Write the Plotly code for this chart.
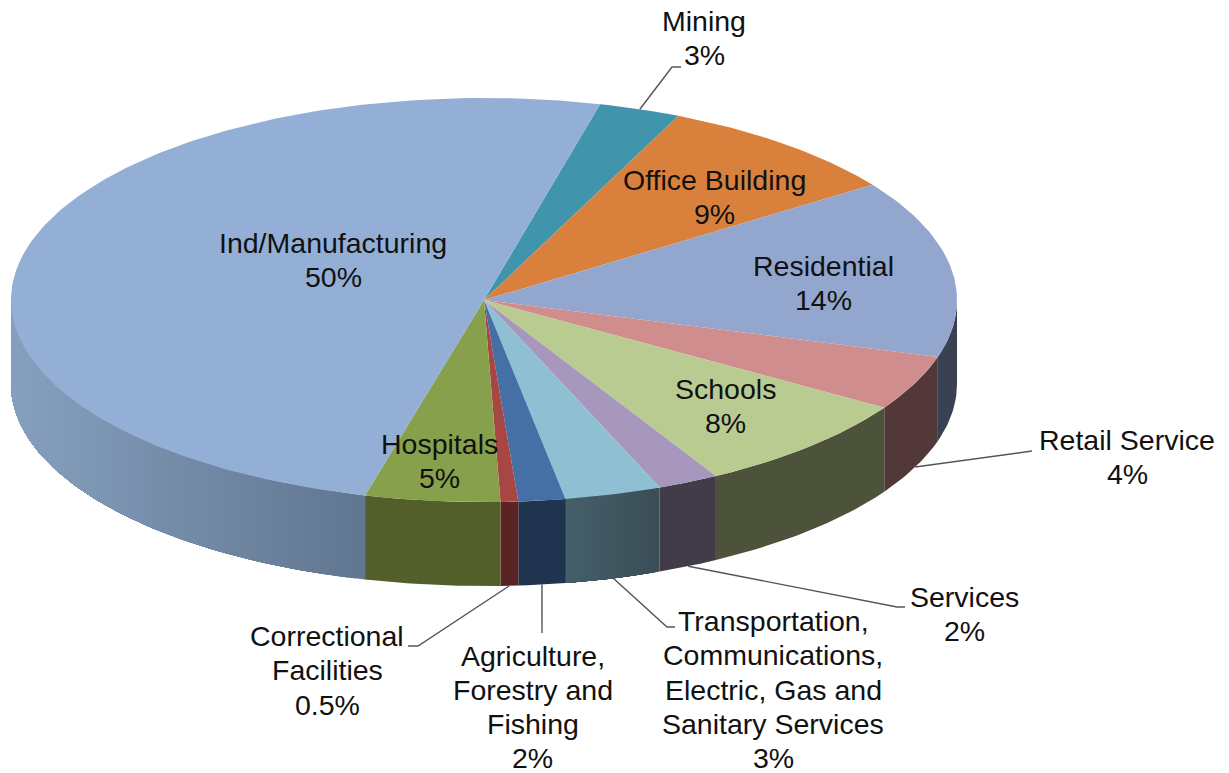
import math
import plotly.graph_objects as go

# ---- data ----
categories = ["Mining", "Office Building", "Residential", "Retail Service", "Schools", "Services",
              "Transportation,\nCommunications,\nElectric, Gas and\nSanitary Services",
              "Agriculture,\nForestry and\nFishing", "Correctional\nFacilities", "Hospitals", "Ind/Manufacturing"]
values = [2.8, 8.6, 14.2, 4.4, 7.9, 2.1, 3.3, 1.6, 0.6, 4.6, 49.9]
value_labels = ["3%", "9%", "14%", "4%", "8%", "2%", "3%", "2%", "0.5%", "5%", "50%"]

# ---- styles ----
top_colors = ["#4095AD", "#D8803C", "#93A6CE", "#CF8E8D", "#B9CB91", "#A897BC",
              "#8FBFD2", "#4570A6", "#A84644", "#87A04C", "#93AFD5"]
side_colors = [None, None,
               ("#3A4152", "#3A4152"), ("#523838", "#523838"), ("#4C533A", "#4C533A"),
               ("#423C48", "#423C48"), ("#3B4D57", "#45606A"), ("#21344F", "#21344F"),
               ("#5A2425", "#5A2425"), ("#525F2B", "#525F2B"), ("#61758F", "#86A0BF")]
# label layout: centre x, first line centre y
label_x = [704, 714, 823, 1127, 725, 964, 773, 532.5, 327, 439, 333]
label_y = [21, 180, 266, 440, 389, 597, 621, 655.5, 636, 444, 243]
line_step = 34.3
# leader elbows (None = no leader)
leaders = [[(672, 67), (681, 67)], None, None, [(1032, 451)], None, [(897, 607), (905, 607)],
           [(667, 627), (675, 627)], [(542, 633)], [(418, 646), (408, 646)], None, None]

CX, CY, RX, RY, DEPTH, START = 484, 300, 473, 202, 84, 14.2


def px(a):
    r = math.radians(a)
    return CX + RX * math.sin(r), CY - RY * math.cos(r)


def hex2rgb(h):
    return [int(h[i:i + 2], 16) for i in (1, 3, 5)]


fig = go.Figure()


def poly(xs, ys, color):
    fig.add_trace(go.Scatter(x=xs, y=ys, mode="lines", fill="toself", fillcolor=color,
                             line=dict(color=color, width=0), hoverinfo="skip", showlegend=False))


total = sum(values)
bounds = [START]
for v in values:
    bounds.append(bounds[-1] + v / total * 360)

# sides (only the front half of the rim shows); gradient bands are even in x,
# and each band runs to the slice's end so later bands paint over it without seams
for i in range(len(values)):
    a0, a1 = max(bounds[i], 90), min(bounds[i + 1], 270)
    if a1 <= a0 or side_colors[i] is None:
        continue
    c0, c1 = hex2rgb(side_colors[i][0]), hex2rgb(side_colors[i][1])
    n = 40 if side_colors[i][0] != side_colors[i][1] else 1
    x0, x1 = px(a0)[0], px(a1)[0]
    for k in range(n):
        xk = x0 + (x1 - x0) * k / n
        b0 = 180 - math.degrees(math.asin(max(-1, min(1, (xk - CX) / RX))))
        m = max(4, int(a1 - b0))
        arc = [px(b0 + (a1 - b0) * j / m) for j in range(m + 1)]
        t = (k + 0.5) / n
        col = "rgb(%d,%d,%d)" % tuple(round(c0[q] + (c1[q] - c0[q]) * t) for q in range(3))
        xs = [p[0] for p in arc] + [p[0] for p in reversed(arc)] + [arc[0][0]]
        ys = [p[1] for p in arc] + [p[1] + DEPTH for p in reversed(arc)] + [arc[0][1]]
        poly(xs, ys, col)

# top face
for i in range(len(values)):
    n = max(4, int(bounds[i + 1] - bounds[i]))
    arc = [px(bounds[i] + (bounds[i + 1] - bounds[i]) * j / n) for j in range(n + 1)]
    poly([CX] + [p[0] for p in arc] + [CX], [CY] + [p[1] for p in arc] + [CY], top_colors[i])

# leaders
for i, el in enumerate(leaders):
    if not el:
        continue
    mid = (bounds[i] + bounds[i + 1]) / 2
    sx, sy = px(mid)
    if 90 < mid < 270:
        sy += DEPTH
    fig.add_trace(go.Scatter(x=[sx] + [p[0] for p in el], y=[sy] + [p[1] for p in el], mode="lines",
                             line=dict(color="#555555", width=1.4), hoverinfo="skip", showlegend=False))

# labels
for i, name in enumerate(categories):
    lines = name.split("\n") + [value_labels[i]]
    for j, line in enumerate(lines):
        fig.add_annotation(x=label_x[i], y=label_y[i] + j * line_step, text=line, showarrow=False,
                           xanchor="center", yanchor="middle",
                           font=dict(family="Liberation Sans", size=28.5, color="#111111"))

fig.update_layout(width=1229, height=773, margin=dict(l=0, r=0, t=0, b=0),
                  paper_bgcolor="white", plot_bgcolor="white", showlegend=False,
                  xaxis=dict(range=[0, 1229], visible=False, fixedrange=True),
                  yaxis=dict(range=[773, 0], visible=False, fixedrange=True))
fig.write_html("out.html", post_script="document.body.style.margin='0';document.body.style.overflow='hidden';",
               config={"displayModeBar": False})
